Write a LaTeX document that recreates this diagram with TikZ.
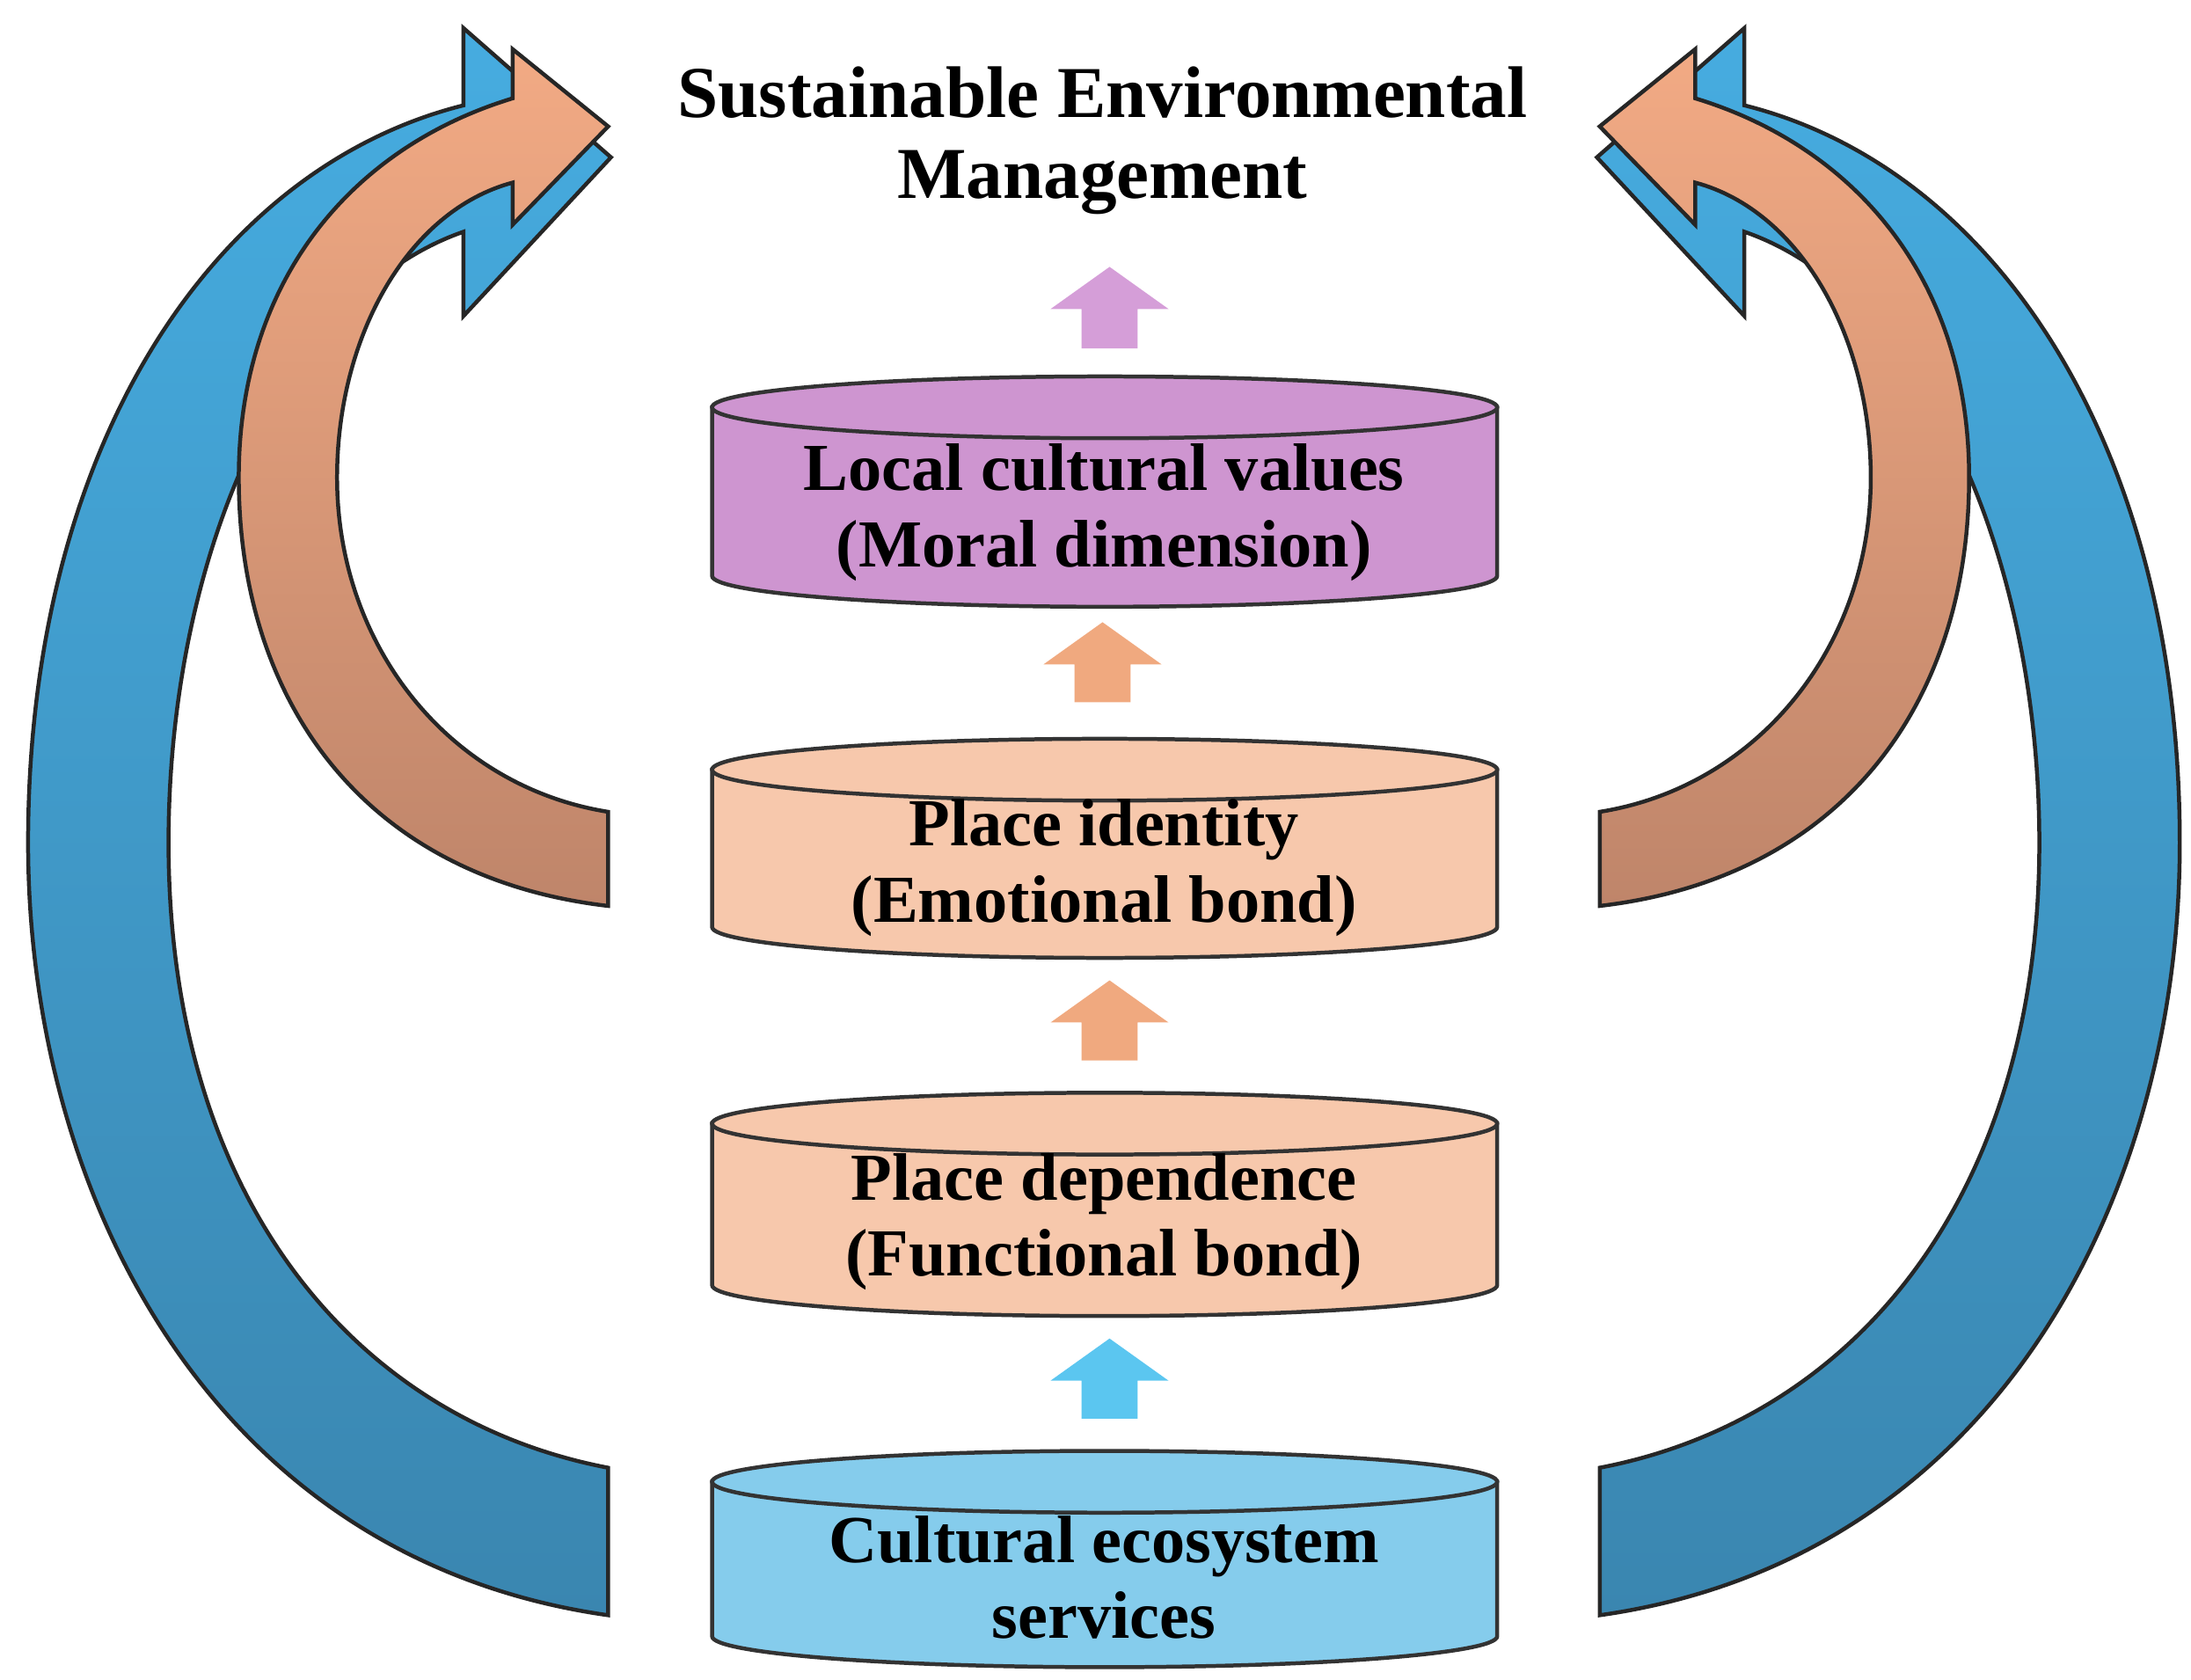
\documentclass[tikz,border=0pt]{standalone}
\usepackage{fontspec}
\setmainfont{Liberation Serif}
\definecolor{cesblue}{HTML}{85CCEC}
\definecolor{bigblue}{HTML}{46ACE0}
\definecolor{bigbluedark}{HTML}{3A86B0}
\definecolor{peach}{HTML}{F7C8AC}
\definecolor{bigorange}{HTML}{F2AA84}
\definecolor{bigorangedark}{HTML}{BF856A}
\definecolor{lilac}{HTML}{CE95D0}
\definecolor{smallblue}{HTML}{5BC6F0}
\definecolor{smallorange}{HTML}{F0A97F}
\definecolor{smallpurple}{HTML}{D59ED8}
\tikzset{
  label text/.style={font=\fontsize{13.6}{15.4}\selectfont\bfseries, align=center},
  cyl/.style={draw=black!80, line width=0.8pt},
  big arrow/.style={draw=black!85, line width=0.8pt, line join=miter},
}
% cylinder: x-left, x-right, y of top ellipse, y of bottom ellipse, fill
\newcommand{\cylinderat}[5]{%
  \filldraw[cyl, fill=#5] (#1,#3) -- (#1,#4) arc[start angle=180, end angle=0, x radius={(#2-#1)/2}, y radius=22] -- (#2,#3) -- cycle;
  \filldraw[cyl, fill=#5] ({(#1+#2)/2},#3) ellipse[x radius={(#2-#1)/2}, y radius=22];
}
% small block arrow: center x, top y, bottom y, fill
\newcommand{\blockarrow}[4]{%
  \fill[#4] (#1-20,#3) -- (#1-20,#2+30) -- (#1-42,#2+30) -- (#1,#2) -- (#1+42,#2+30) -- (#1+20,#2+30) -- (#1+20,#3) -- cycle;
}
\begin{document}
\begin{tikzpicture}[x=0.01cm, y=-0.01cm]
\useasboundingbox (0,0) rectangle (1560,1196);
% big curved arrows, left and right
\foreach \side/\shift in {1/0, -1/1572} {
\begin{scope}[shift={(\shift,0)}, xscale=\side]
\shade[big arrow, top color=bigblue, bottom color=bigbluedark]
  (433,1045) -- (433,1150) .. controls (150,1110) and (20,850) .. (20,600)
  .. controls (20,320) and (150,120) .. (330,75) -- (330,20) -- (435,112) -- (330,225) -- (330,165)
  .. controls (200,210) and (120,400) .. (120,600) .. controls (120,850) and (250,1010) .. (433,1045) -- cycle;
\shade[big arrow, top color=bigorange, bottom color=bigorangedark]
  (433,578) -- (433,645) .. controls (260,625) and (170,500) .. (170,340)
  .. controls (170,200) and (250,105) .. (365,70) -- (365,35) -- (433,90) -- (365,160) -- (365,130)
  .. controls (290,150) and (240,240) .. (240,340) .. controls (240,460) and (320,560) .. (433,578) -- cycle;
\end{scope}
}
% cylinders
\cylinderat{507}{1066}{290}{410}{lilac}
\cylinderat{507}{1066}{548}{660}{peach}
\cylinderat{507}{1066}{800}{915}{peach}
\cylinderat{507}{1066}{1055}{1165}{cesblue}
% texts
\node[label text, font=\fontsize{14.8}{16.5}\selectfont\bfseries] (sem) at (785,100) {Sustainable Environmental\\Management};
\node[label text] (lcv) at (786,365) {Local cultural values\\(Moral dimension)};
\node[label text] (pid) at (786,618) {Place identity\\(Emotional bond)};
\node[label text] (pdp) at (786,870) {Place dependence\\(Functional bond)};
\node[label text] (ces) at (786,1123) {Cultural ecosystem\\services};
% small arrows between levels
\blockarrow{790}{190}{248}{smallpurple}
\blockarrow{785}{443}{500}{smallorange}
\blockarrow{790}{698}{755}{smallorange}
\blockarrow{790}{953}{1010}{smallblue}
\end{tikzpicture}
\end{document}
